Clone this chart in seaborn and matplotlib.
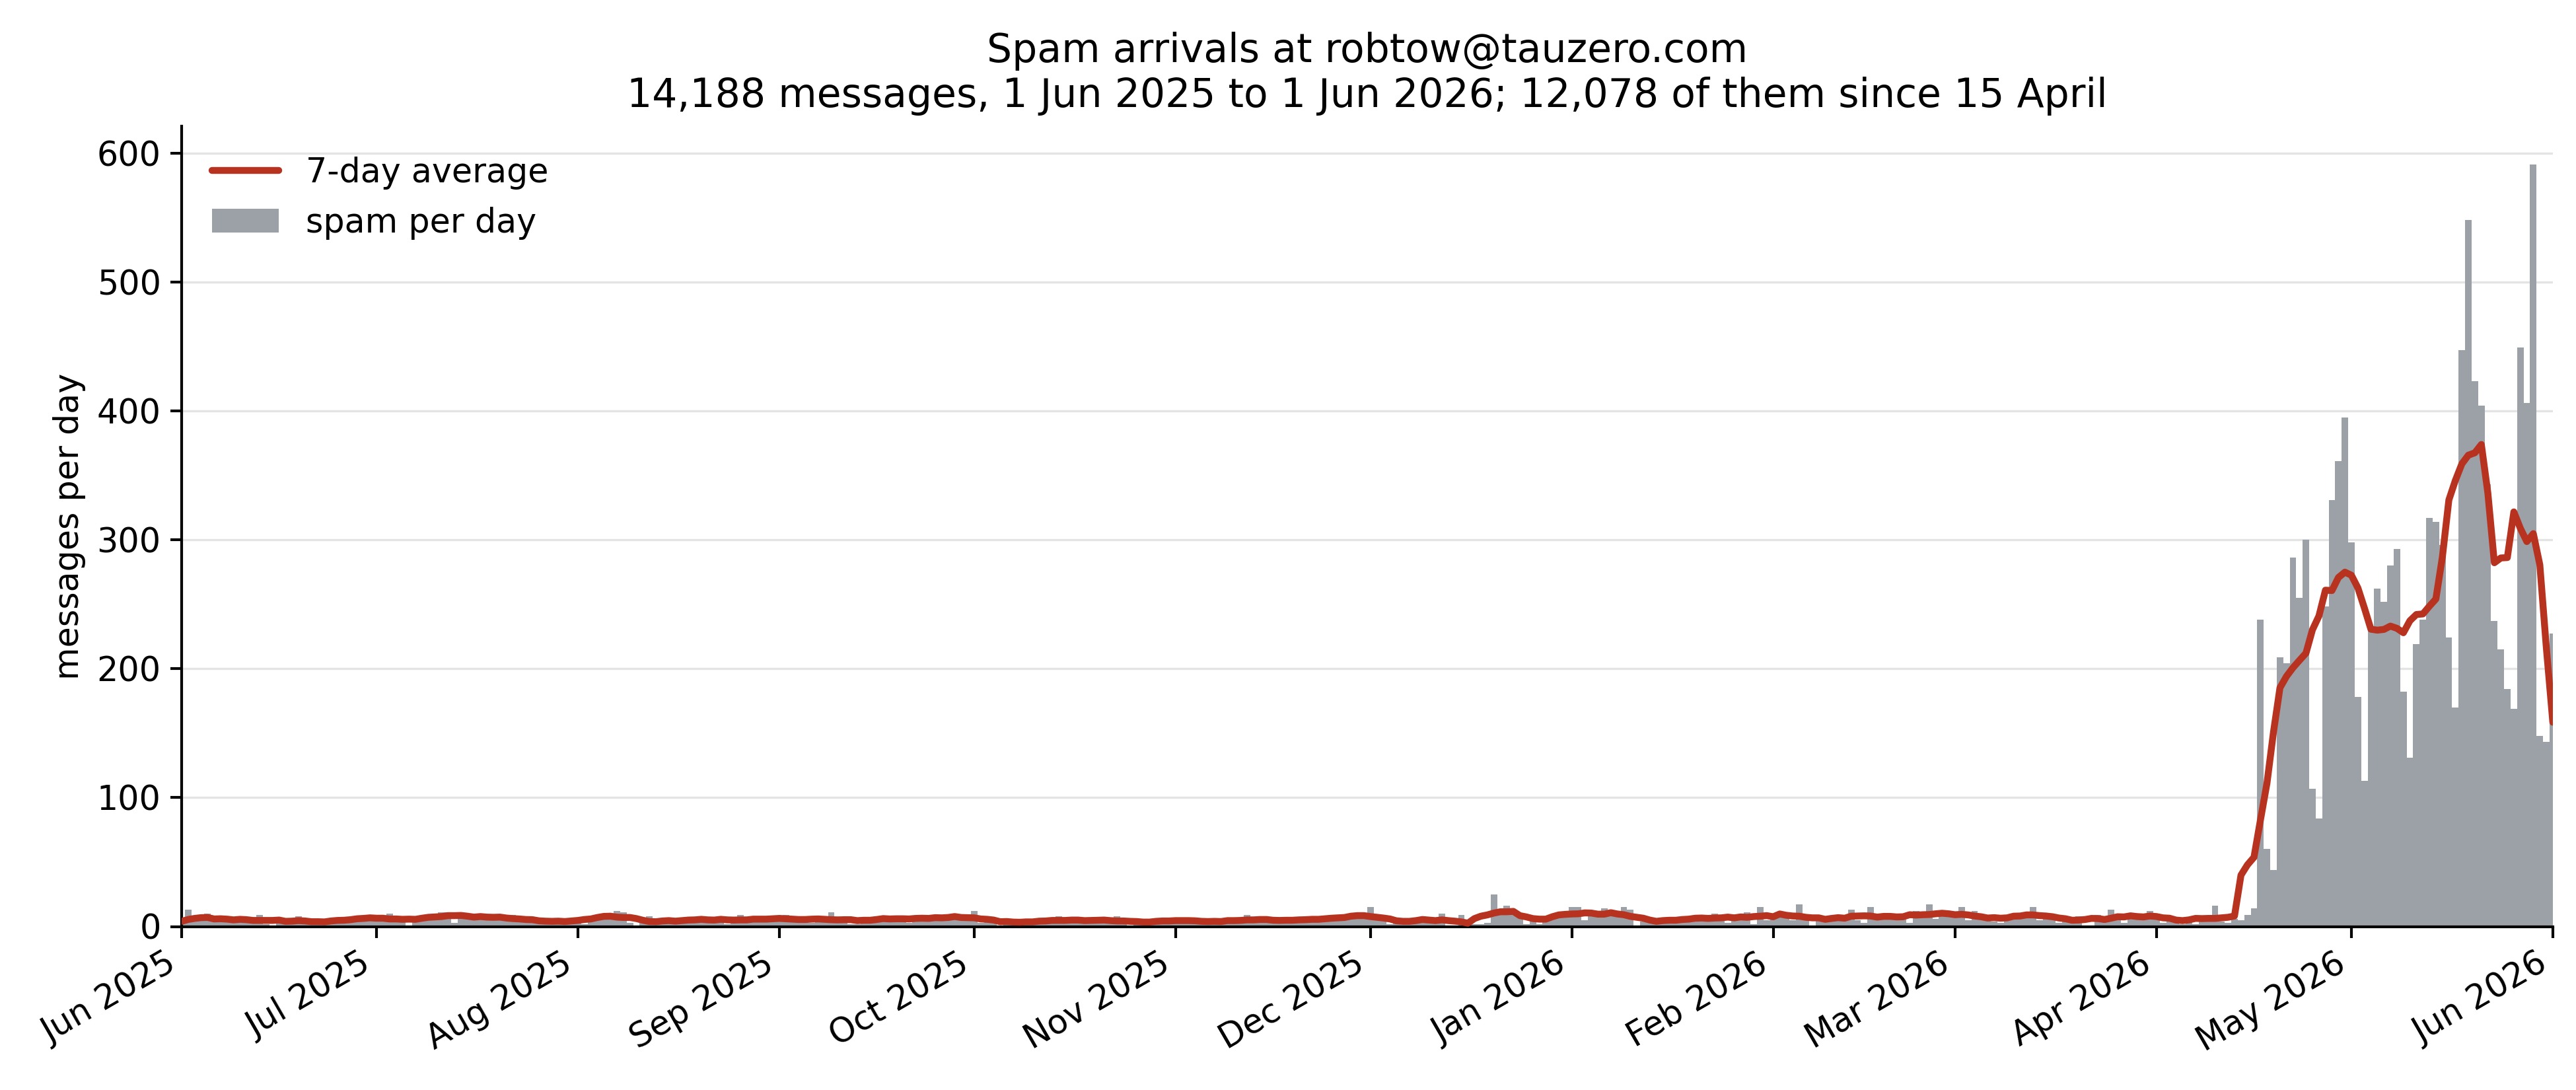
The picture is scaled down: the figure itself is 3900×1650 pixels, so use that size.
import numpy as np
import pandas as pd
import matplotlib
matplotlib.use("Agg")
import matplotlib.pyplot as plt
import matplotlib.dates as mdates
from matplotlib.patches import Patch
from matplotlib.lines import Line2D
import seaborn as sns

# ---- data: spam messages per day, 1 Jun 2025 .. 1 Jun 2026 ----
jun25 = [4, 13, 5, 6, 10, 6, 4, 5, 5, 6, 4, 6, 9, 2, 1, 5, 6, 4, 8, 2, 3, 4, 3, 2, 4, 7, 7, 6, 5, 6]
jul25 = [7, 6, 10, 5, 6, 1, 6, 5, 7, 9, 11, 11, 3, 8, 10, 7, 10, 7, 6, 6, 5, 9, 8, 5, 4, 4, 3, 4, 3, 6, 4]
aug25 = [5, 2, 6, 7, 8, 9, 12, 11, 3, 1, 5, 8, 3, 3, 4, 2, 5, 7, 5, 6, 6, 5, 5, 2, 6, 9, 3, 5, 6, 5, 6]
sep25 = [6, 9, 5, 7, 4, 3, 4, 6, 11, 6, 5, 2, 2, 5, 6, 6, 8, 5, 6, 7, 3, 7, 6, 7, 8, 7, 6, 7, 6, 8]
oct25 = [12, 3, 6, 5, 1, 4, 4, 3, 4, 3, 4, 3, 4, 8, 4, 7, 3, 4, 5, 4, 5, 5, 8, 4, 1, 3, 4, 3, 4, 5, 4]
nov25 = [5, 5, 4, 5, 4, 5, 3, 2, 4, 5, 4, 9, 5, 4, 5, 4, 7, 4, 5, 4, 5, 5, 6, 8, 6, 5, 7, 8, 7, 8]
dec25 = [15, 9, 5, 2, 4, 3, 3, 5, 6, 5, 6, 10, 0, 0, 9, 2, 2, 2, 3, 25, 13, 16, 12, 9, 2, 5, 2, 6, 7, 9, 9]
jan26 = [15, 15, 5, 8, 8, 14, 8, 9, 15, 13, 1, 4, 5, 3, 4, 5, 6, 5, 6, 5, 7, 6, 10, 7, 3, 8, 6, 11, 2, 15, 5]
feb26 = [7, 10, 9, 5, 17, 8, 1, 6, 4, 6, 5, 9, 13, 5, 3, 15, 7, 6, 8, 7, 9, 3, 12, 8, 17, 6, 9, 10]
mar26 = [7, 15, 5, 12, 8, 6, 4, 3, 8, 7, 9, 10, 15, 5, 9, 8, 3, 7, 6, 8, 1, 1, 9, 6, 13, 5, 3, 8, 9, 8, 12]
apr26 = [9, 3, 8, 5, 2, 6, 2, 6, 7, 16, 4, 3, 6, 5, 9, 14, 238, 60, 44, 209, 204, 286, 255, 300, 107, 84,
         248, 331, 361, 395]
may26 = [298, 178, 113, 231, 262, 252, 280, 293, 182, 131, 219, 238, 317, 314, 296, 224, 170, 447, 548,
         423, 404, 343, 237, 215, 184, 169, 449, 406, 591, 148, 143]
jun26 = [227]

title_lines = ["Spam arrivals at robtow@tauzero.com",
               "14,188 messages, 1 Jun 2025 to 1 Jun 2026; 12,078 of them since 15 April"]
line_label = "7-day average"
bar_label = "spam per day"
y_label = "messages per day"

counts = np.array(jun25 + jul25 + aug25 + sep25 + oct25 + nov25 + dec25 + jan26 + feb26
                  + mar26 + apr26 + may26 + jun26, dtype=float)
dates = pd.date_range("2025-06-01", "2026-06-01", freq="D")
# centred 7-day mean (days outside the range count as zero)
avg = np.convolve(counts, np.ones(7) / 7.0, mode="same")
df = pd.DataFrame({"date": dates, "count": counts, "avg": avg})

sns.set_theme(style="ticks")
plt.rcParams["font.family"] = ["DejaVu Sans"]
plt.rcParams["text.color"] = "black"
plt.rcParams["axes.labelcolor"] = "black"
plt.rcParams["xtick.color"] = "black"
plt.rcParams["ytick.color"] = "black"

BAR_C = "#9ca0a7"
LINE_C = "#b83220"
LW = 2.5

fig, ax = plt.subplots(figsize=(13, 5.5), dpi=300)
fig.subplots_adjust(left=0.0705, right=0.991, top=0.884, bottom=0.150)

ax.bar(df["date"], df["count"], width=1.0, color=BAR_C, linewidth=0, align="center", zorder=2)
sns.lineplot(data=df, x="date", y="avg", ax=ax, color=LINE_C, linewidth=LW, zorder=3)

ax.set_xlim(dates[0], dates[-1])
ax.set_ylim(0, counts.max() * 1.05)
ax.set_yticks(np.arange(0, 601, 100))
ax.yaxis.grid(True, color="#e4e4e4", linewidth=0.8, zorder=0)
ax.set_axisbelow(True)

ax.xaxis.set_major_locator(mdates.MonthLocator())
ax.xaxis.set_major_formatter(mdates.DateFormatter("%b %Y"))
ax.tick_params(axis="both", labelsize=12.2, colors="black", length=4, width=1.0)
plt.setp(ax.get_xticklabels(), rotation=30, ha="right")

for s in ("top", "right"):
    ax.spines[s].set_visible(False)
for s in ("left", "bottom"):
    ax.spines[s].set_color("black")
    ax.spines[s].set_linewidth(1.0)

ax.set_xlabel("")
ax.set_ylabel(y_label, fontsize=12.2, color="black")
ax.set_title("\n".join(title_lines), fontsize=14.4, color="black", pad=7)

handles = [Line2D([0], [0], color=LINE_C, linewidth=LW),
           Patch(facecolor=BAR_C, edgecolor="none")]
leg = ax.legend(handles, [line_label, bar_label], loc="upper left", frameon=False, fontsize=12.2,
                bbox_to_anchor=(0.0, 1.0))
for t in leg.get_texts():
    t.set_color("black")

fig.savefig("out.png", dpi=300)
